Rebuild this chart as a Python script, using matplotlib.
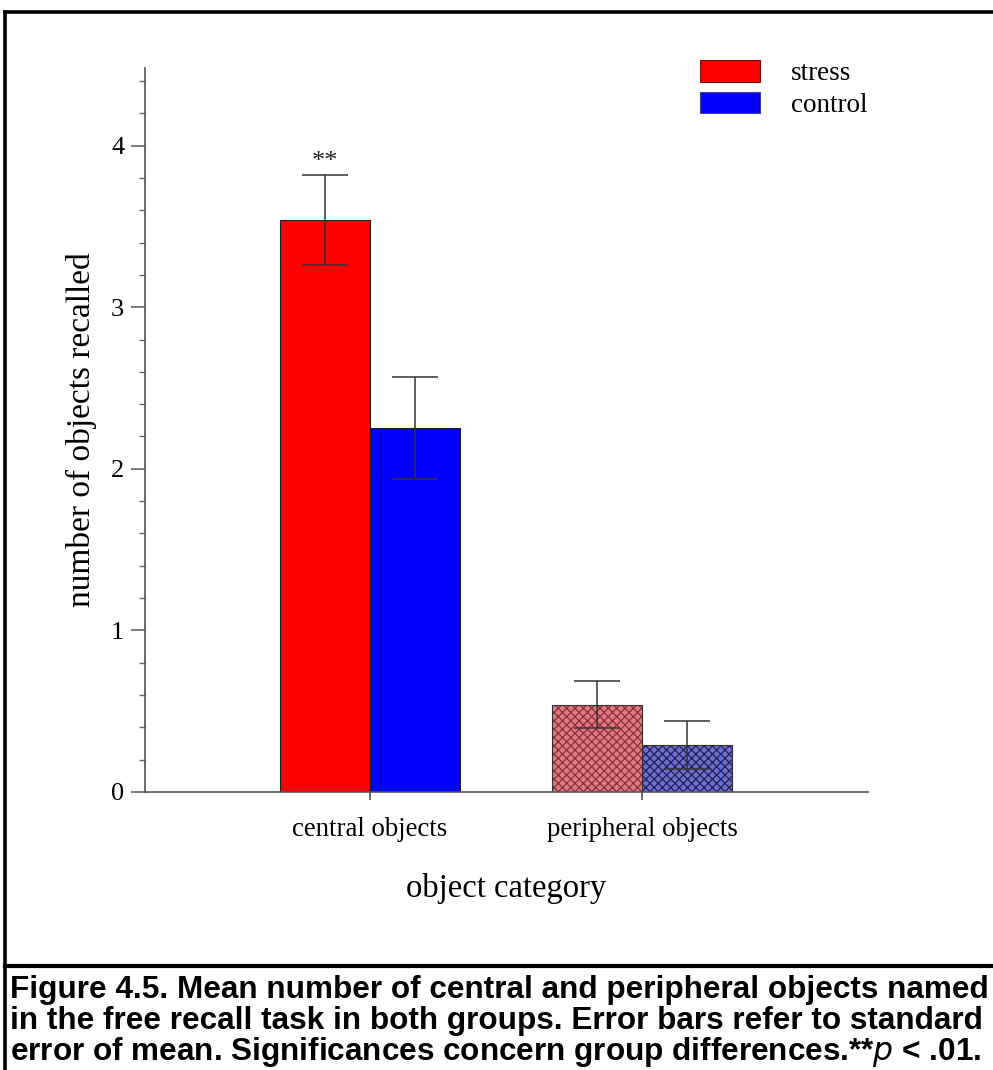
import matplotlib
matplotlib.use("Agg")
import matplotlib.pyplot as plt
from matplotlib.patches import Patch
from matplotlib.lines import Line2D
from matplotlib.ticker import MultipleLocator
import numpy as np

# Data
categories = ["central objects", "peripheral objects"]
groups = ["stress", "control"]
stress_means = [3.54, 0.54]
stress_se = [0.28, 0.145]
control_means = [2.25, 0.29]
control_se = [0.315, 0.15]
significance = ["**", ""]
caption_lines = [
    "Figure 4.5. Mean number of central and peripheral objects named",
    "in the free recall task in both groups. Error bars refer to standard",
    "error of mean. Significances concern group differences.",
]

W, H = 993, 1070
plt.rcParams["hatch.linewidth"] = 0.9
fig = plt.figure(figsize=(W / 100, H / 100), dpi=100)
fig.patch.set_facecolor("white")

serif = ["Liberation Serif", "DejaVu Serif"]
sans = ["Liberation Sans", "DejaVu Sans"]

ax = fig.add_axes([145 / W, 1 - 792 / H, (868 - 145) / W, (792 - 68) / H])

x = np.arange(1, len(categories) + 1)
bw = 0.33

solid_fill = {"stress": "#ff0000", "control": "#0000ff"}
hatch_fill = {"stress": "#dc7c80", "control": "#7070c8"}
hatch_ink = {"stress": "#8e2c38", "control": "#1e1e62"}

means = {"stress": stress_means, "control": control_means}
ses = {"stress": stress_se, "control": control_se}
offsets = {"stress": -bw / 2, "control": bw / 2}

for g in groups:
    for i in range(len(categories)):
        xi = x[i] + offsets[g]
        m = means[g][i]
        if i == 0:
            ax.bar(xi, m, width=bw, color=solid_fill[g], edgecolor="#202020",
                   linewidth=0.8, zorder=2)
        else:
            ax.bar(xi, m, width=bw, color=hatch_fill[g], edgecolor="none",
                   linewidth=0, zorder=2)
            ax.bar(xi, m, width=bw, color="none", edgecolor=hatch_ink[g],
                   hatch="xxxx", linewidth=0, zorder=2.1)
            ax.bar(xi, m, width=bw, color="none", edgecolor="#303030",
                   linewidth=0.8, zorder=2.2)
        ax.errorbar(xi, m, yerr=ses[g][i], fmt="none", ecolor="#333333",
                    elinewidth=1.1, capsize=16.5, capthick=1.1, zorder=3)

for i, s in enumerate(significance):
    if s:
        top = stress_means[i] + stress_se[i]
        ax.annotate(s, (x[i] - bw / 2, top), xytext=(0, 1),
                    textcoords="offset points", ha="center", va="bottom",
                    fontsize=19, family=serif, color="#222222")

ax.set_xlim(0.173, 2.831)
ax.set_ylim(0, 4.48)

for side in ("top", "right"):
    ax.spines[side].set_visible(False)
for side in ("left", "bottom"):
    ax.spines[side].set_color("#555555")
    ax.spines[side].set_linewidth(1.2)

ax.set_xticks(x)
ax.set_xticklabels(categories, fontsize=19.3, family=serif)
ax.tick_params(axis="x", direction="out", length=6, width=1.1,
               color="#444444", pad=12)
ax.yaxis.set_major_locator(MultipleLocator(1))
ax.yaxis.set_minor_locator(MultipleLocator(0.2))
ax.tick_params(axis="y", which="major", direction="out", length=10,
               width=1.1, color="#555555", pad=5, labelsize=19)
ax.tick_params(axis="y", which="minor", direction="out", length=4,
               width=1.0, color="#666666")
for lab in ax.get_yticklabels():
    lab.set_family(serif)

ax.set_ylabel("number of objects recalled", fontsize=24, family=serif,
              labelpad=10)
ax.set_xlabel("object category", fontsize=23.5, family=serif, labelpad=22)

handles = [Patch(facecolor=solid_fill[g], edgecolor="#7a1010" if g == "stress" else "#4040a0",
                 linewidth=0.8) for g in groups]
ax.legend(handles, groups, loc="upper left",
          bbox_to_anchor=(700 / W, 1 - 60 / H), bbox_transform=fig.transFigure,
          frameon=False, prop={"family": serif, "size": 19.5},
          handlelength=2.22, handleheight=0.85, handletextpad=1.15,
          labelspacing=0.2, borderpad=0, borderaxespad=0)

# Frame lines around the figure
fig.add_artist(Line2D([4.5 / W, 1], [1 - 11.5 / H, 1 - 11.5 / H],
                      transform=fig.transFigure, color="black", linewidth=2.6,
                      solid_capstyle="projecting"))
fig.add_artist(Line2D([4.5 / W, 4.5 / W], [0, 1 - 11.5 / H],
                      transform=fig.transFigure, color="black", linewidth=2.6,
                      solid_capstyle="projecting"))
fig.add_artist(Line2D([4.5 / W, 1], [1 - 966 / H, 1 - 966 / H],
                      transform=fig.transFigure, color="black", linewidth=3.0))

# Caption
cap_size = 22.7
cap_x = 10 / W
fig.text(cap_x, 1 - 998 / H, caption_lines[0], fontsize=cap_size,
         family=sans, weight="bold", ha="left", va="baseline")
fig.text(cap_x, 1 - 1029 / H, caption_lines[1], fontsize=cap_size,
         family=sans, weight="bold", ha="left", va="baseline")
fig.text(cap_x, 1 - 1060 / H,
         caption_lines[2] + r"**$\mathbf{\it{p}}$ < .01.",
         fontsize=cap_size, family=sans, weight="bold", ha="left",
         va="baseline")

fig.savefig("out.png", dpi=100)
